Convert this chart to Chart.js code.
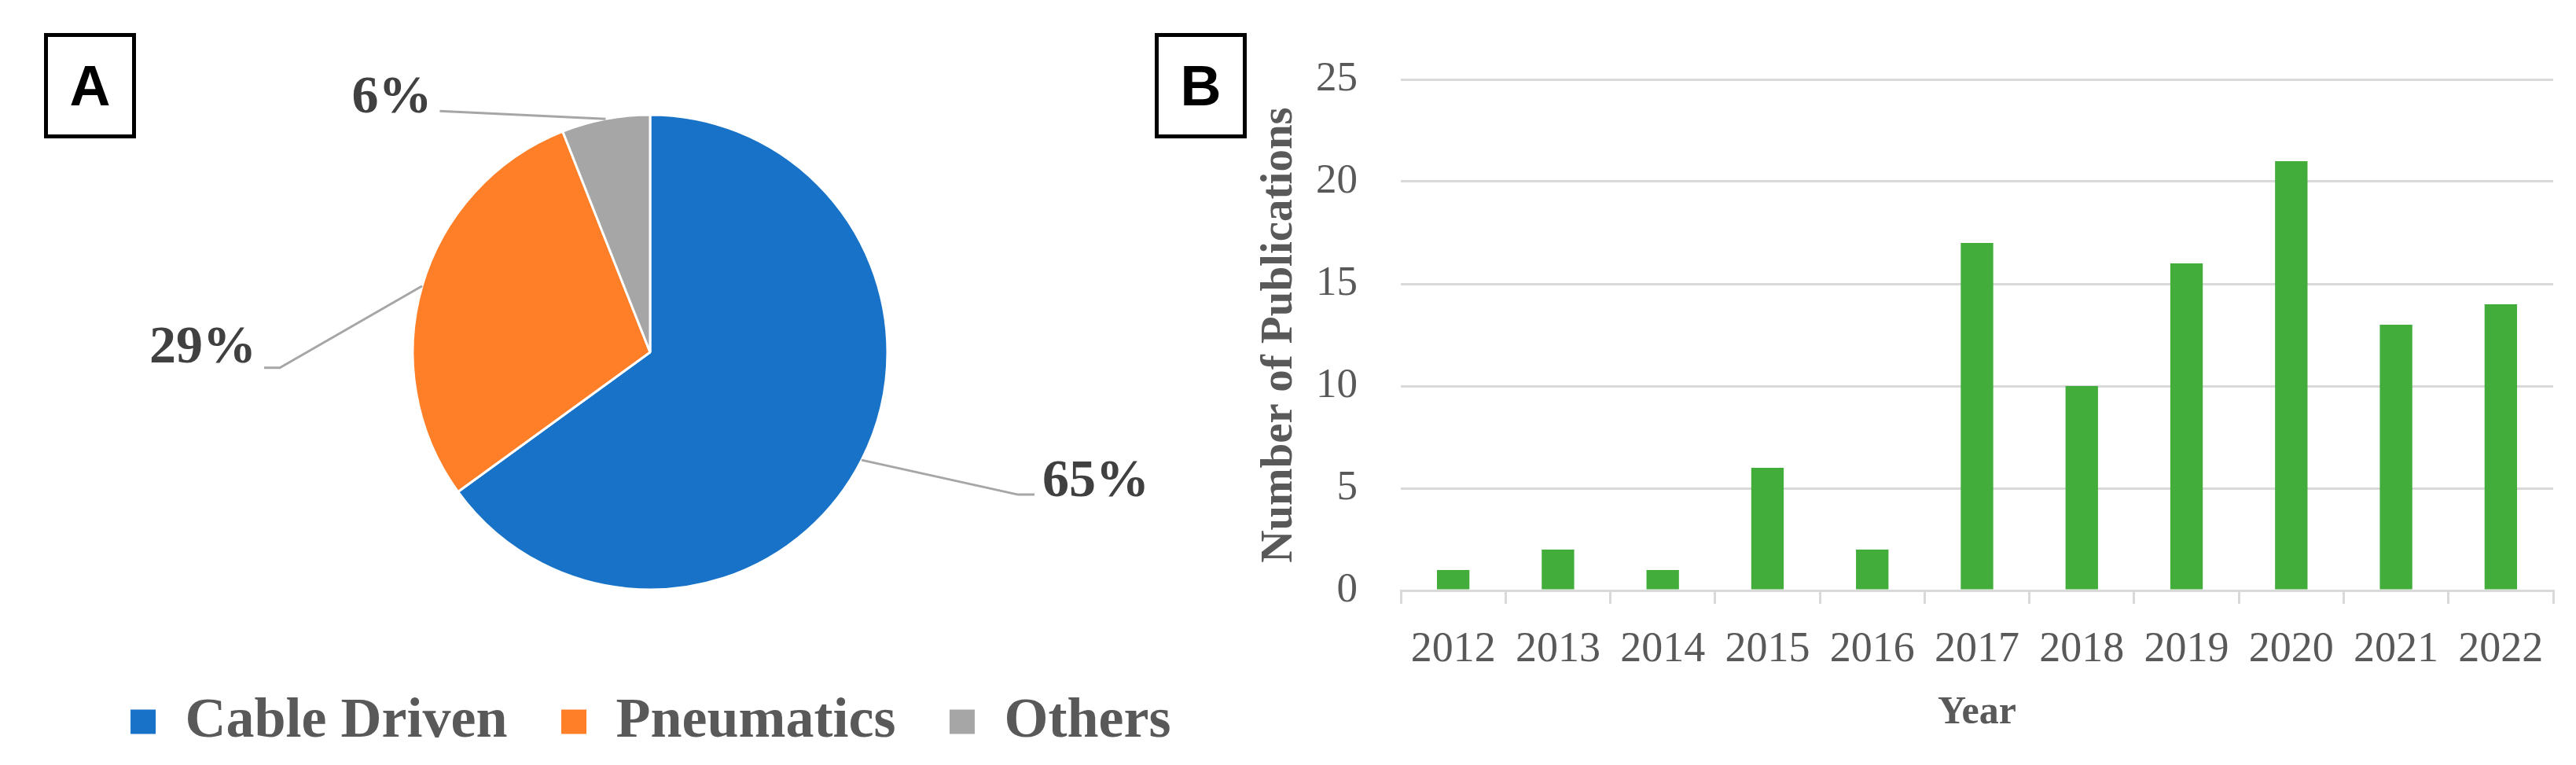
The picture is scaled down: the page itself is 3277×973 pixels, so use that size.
<!DOCTYPE html>
<html>
<head>
<meta charset="utf-8">
<script src="https://cdn.jsdelivr.net/npm/chart.js@4.4.1/dist/chart.umd.min.js"></script>
<style>
  body { margin: 0; background: #fff; overflow: hidden; }
  #wrap { position: relative; width: 3277px; height: 973px; }
  .tag { position: absolute; box-sizing: border-box; border: 5px solid #000;
         font: bold 72px "Liberation Sans", Arial, sans-serif; color: #000;
         display: flex; align-items: center; justify-content: center; }
  #pieBox { position: absolute; left: 0; top: 0; width: 1600px; height: 973px; }
  #barBox { position: absolute; left: 1600px; top: 0; width: 1677px; height: 973px; }
</style>
</head>
<body>
<div id="wrap">
  <div id="pieBox"><canvas id="pieChart"></canvas></div>
  <div id="barBox"><canvas id="barChart"></canvas></div>
  <div class="tag" style="left:56px;top:42px;width:117px;height:134px;">A</div>
  <div class="tag" style="left:1469px;top:42px;width:117px;height:134px;">B</div>
</div>
<script>
// panel A data
const pieLabels = ['Cable Driven', 'Pneumatics', 'Others'];
const pieValues = [65, 29, 6];
const pieColors = ['#1872C8', '#FE7F27', '#A6A6A6'];

// panel B data
const years = ['2012', '2013', '2014', '2015', '2016', '2017', '2018', '2019', '2020', '2021', '2022'];
const publications = [1, 2, 1, 6, 2, 17, 10, 16, 21, 13, 14];

const serif = '"Liberation Serif", "Times New Roman", serif';
const textGray = '#595959';
const lineGray = '#D9D9D9';

// percentage labels with leader lines
const pieLabelPlugin = {
    id: 'pieLabels',
    afterDatasetsDraw(chart, args, opts) {
        const ctx = chart.ctx;
        const meta = chart.getDatasetMeta(0);
        const values = chart.data.datasets[0].data;
        ctx.save();
        ctx.font = 'bold 68px ' + serif;
        ctx.fillStyle = '#404040';
        ctx.textBaseline = 'alphabetic';
        meta.data.forEach((arc, i) => {
            const p = arc.getProps(['x', 'y', 'startAngle', 'endAngle', 'outerRadius'], true);
            const mid = (p.startAngle + p.endAngle) / 2;
            const sx = p.x + Math.cos(mid) * p.outerRadius;
            const sy = p.y + Math.sin(mid) * p.outerRadius;
            const [dx, dy, tail, ty] = opts.leaders[i];
            const ex = sx + dx, ey = sy + dy;
            const tx = ex + tail;
            ctx.strokeStyle = '#A6A6A6';
            ctx.lineWidth = 3;
            ctx.beginPath();
            ctx.moveTo(sx, sy);
            ctx.lineTo(ex, ey);
            ctx.lineTo(tx, ey);
            ctx.stroke();
            const left = dx < 0;
            ctx.textAlign = left ? 'right' : 'left';
            ctx.fillText(values[i] + '%', tx + (left ? -10 : 10), ey + ty);
        });
        ctx.restore();
    }
};

new Chart(document.getElementById('pieChart'), {
    type: 'pie',
    data: {
        labels: pieLabels,
        datasets: [{
            data: pieValues,
            backgroundColor: pieColors,
            borderColor: '#fff',
            borderWidth: 3
        }]
    },
    options: {
        responsive: true,
        maintainAspectRatio: false,
        animation: false,
        radius: 302,
        layout: { padding: { top: 81, bottom: 9, left: 54, right: 0 } },
        plugins: {
            legend: {
                position: 'bottom',
                labels: {
                    color: textGray,
                    font: { family: serif, size: 72, weight: 'bold' },
                    boxWidth: 35,
                    boxHeight: 34,
                    padding: 67
                }
            },
            tooltip: { enabled: false },
            pieLabels: {
                leaders: [[199, 44, 21, 2], [-181, 104, -20, -7], [-211, -10, 0, 2]]
            }
        }
    },
    plugins: [pieLabelPlugin]
});

new Chart(document.getElementById('barChart'), {
    type: 'bar',
    data: {
        labels: years,
        datasets: [{
            data: publications,
            backgroundColor: '#43AD3B',
            categoryPercentage: 1,
            barPercentage: 0.31
        }]
    },
    options: {
        responsive: true,
        maintainAspectRatio: false,
        animation: false,
        layout: { padding: { top: 101, bottom: 36, left: 0, right: 29 } },
        plugins: {
            legend: { display: false },
            tooltip: { enabled: false }
        },
        scales: {
            x: {
                afterFit: (scale) => { scale.height = 186; },
                grid: {
                    offset: true,
                    drawOnChartArea: false,
                    drawTicks: true,
                    tickLength: 17,
                    color: lineGray,
                    lineWidth: 3
                },
                border: { display: true, color: lineGray, width: 3 },
                ticks: {
                    color: textGray,
                    padding: 26,
                    font: { family: serif, size: 54 }
                },
                title: {
                    display: true,
                    text: 'Year',
                    color: textGray,
                    font: { family: serif, size: 50, weight: 'bold' },
                    padding: { top: 0, bottom: 0 }
                }
            },
            y: {
                min: 0,
                max: 25,
                afterFit: (scale) => { scale.width = 182; },
                ticks: {
                    stepSize: 5,
                    color: textGray,
                    padding: 55,
                    font: { family: serif, size: 53 }
                },
                grid: {
                    color: lineGray,
                    lineWidth: 3,
                    drawTicks: false
                },
                border: { display: false },
                title: {
                    display: true,
                    text: 'Number of Publications',
                    color: textGray,
                    font: { family: serif, size: 57, weight: 'bold', lineHeight: 1 },
                    padding: { top: 0, bottom: 0 }
                }
            }
        }
    }
});
</script>
</body>
</html>
